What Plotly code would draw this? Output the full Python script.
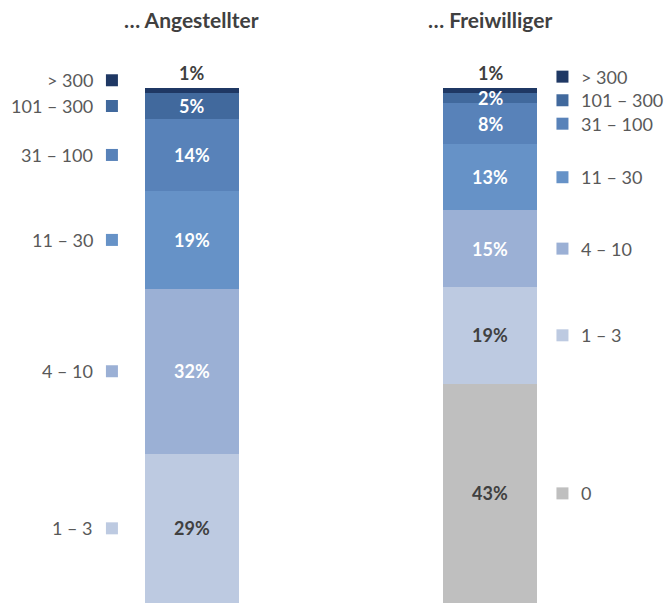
import numpy as np
import plotly.graph_objects as go

# ---- data ----
groups = ["… Angestellter", "… Freiwilliger"]
categories = ["0", "1 – 3", "4 – 10", "11 – 30", "31 – 100", "101 – 300", "> 300"]
angestellter = [0, 29, 32, 19, 14, 5, 1]
freiwilliger = [43, 19, 15, 13, 8, 2, 1]

# ---- styles ----
colors = ["#BFBFBF", "#BDCAE1", "#9BB0D5", "#6692C7", "#5882B9", "#41699D", "#1F3864"]
label_colors = ["#404040", "#404040", "#FFFFFF", "#FFFFFF", "#FFFFFF", "#FFFFFF", "#404040"]
# shift (in % units) so the top legend entries don't collide
legend_nudge = [[0, 0, 0, 0, 0, 0, 2.0], [0, 0, 0, 0, 0, -0.4, 2.7]]
FONT = "Lato, 'Open Sans', sans-serif"
TXT = "#595959"
DARK = "#404040"

series = [angestellter, freiwilliger]
xpos = [0, 1]
bar_w = 0.315

fig = go.Figure()
for ci, cat in enumerate(categories):
    fig.add_trace(go.Bar(
        x=xpos, y=[s[ci] for s in series], name=cat, width=bar_w,
        marker=dict(color=colors[ci], line=dict(width=0)),
        hoverinfo="skip", showlegend=False,
    ))

annotations = []
leg_x = [-0.2685, 1.243]
leg_dir = [-1, 1]
for gi, s in enumerate(series):
    vals = np.array(s, dtype=float)
    norm = vals / vals.sum() * 100
    top = np.cumsum(norm)
    mid = top - norm / 2
    # title
    annotations.append(dict(x=xpos[gi], y=1, xref="x", yref="paper", yanchor="middle", yshift=48,
                            text=f"<b>{groups[gi]}</b>",
                            showarrow=False, font=dict(family=FONT, size=21, color=DARK)))
    for ci, v in enumerate(s):
        if v <= 0:
            continue
        if ci == len(s) - 1:
            annotations.append(dict(x=xpos[gi], y=top[ci], yanchor="bottom", yshift=2, text=f"<b>{v}%</b>",
                                    showarrow=False, font=dict(family=FONT, size=18, color=label_colors[ci])))
        else:
            annotations.append(dict(x=xpos[gi], y=mid[ci], text=f"<b>{v}%</b>",
                                    showarrow=False, font=dict(family=FONT, size=18, color=label_colors[ci])))
        ly = mid[ci] + legend_nudge[gi][ci]
        annotations.append(dict(x=leg_x[gi], y=ly, xshift=leg_dir[gi] * 17,
                                xanchor="right" if leg_dir[gi] < 0 else "left", text=categories[ci],
                                showarrow=False, font=dict(family=FONT, size=18, color=TXT)))
        fig.add_trace(go.Scatter(x=[leg_x[gi]], y=[ly], mode="markers",
                                 marker=dict(symbol="square", size=12, color=colors[ci]),
                                 hoverinfo="skip", showlegend=False, cliponaxis=False))

fig.update_layout(
    barmode="stack", barnorm="percent",
    width=665, height=603,
    margin=dict(l=0, r=0, t=67, b=0),
    plot_bgcolor="white", paper_bgcolor="white",
    xaxis=dict(range=[-0.644, 1.587], visible=False, fixedrange=True),
    yaxis=dict(range=[0, 536 / 5.15], visible=False, fixedrange=True),
    annotations=annotations,
)
fig.write_html("out.html")
